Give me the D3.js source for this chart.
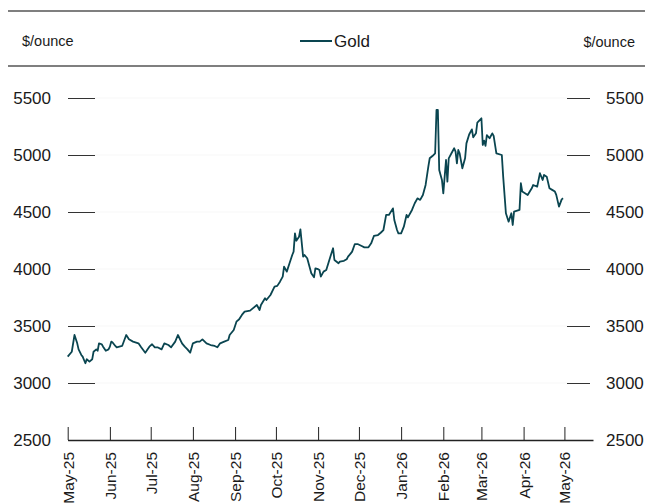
<!DOCTYPE html>
<html>
<head>
<meta charset="utf-8">
<script src="https://cdn.jsdelivr.net/npm/d3@7"></script>
<style>
  body { margin: 0; background: #fff; }
  text { font-family: "Liberation Sans", Arial, sans-serif; fill: #1a1a1a; }
</style>
</head>
<body>
<svg id="chart" width="659" height="503"></svg>
<script>
"use strict";

// gold price, $/ounce
var goldDates = [
  "2025-05-01","2025-05-04","2025-05-06","2025-05-08","2025-05-09","2025-05-11","2025-05-12","2025-05-13","2025-05-14","2025-05-15","2025-05-17","2025-05-19","2025-05-20","2025-05-22","2025-05-23","2025-05-24","2025-05-26","2025-05-27","2025-05-29","2025-05-31",
  "2025-06-01","2025-06-02","2025-06-03","2025-06-05","2025-06-06","2025-06-08","2025-06-10","2025-06-13","2025-06-15","2025-06-18","2025-06-22","2025-06-24","2025-06-27","2025-06-28","2025-06-30",
  "2025-07-02","2025-07-04","2025-07-06","2025-07-09","2025-07-11","2025-07-14","2025-07-16","2025-07-19","2025-07-21","2025-07-24","2025-07-26","2025-07-28","2025-07-30",
  "2025-08-01","2025-08-04","2025-08-06","2025-08-08","2025-08-11","2025-08-14","2025-08-17","2025-08-19","2025-08-21","2025-08-24","2025-08-27","2025-08-28","2025-08-31",
  "2025-09-02","2025-09-04","2025-09-06","2025-09-08","2025-09-12","2025-09-14","2025-09-17","2025-09-19","2025-09-20","2025-09-23","2025-09-24","2025-09-27","2025-09-30",
  "2025-10-02","2025-10-04","2025-10-06","2025-10-07","2025-10-09","2025-10-11","2025-10-13","2025-10-14","2025-10-15","2025-10-16","2025-10-18","2025-10-19","2025-10-21","2025-10-22","2025-10-24","2025-10-26","2025-10-27","2025-10-29","2025-10-30",
  "2025-11-01","2025-11-02","2025-11-03","2025-11-05","2025-11-07","2025-11-10","2025-11-12","2025-11-13","2025-11-16","2025-11-17","2025-11-20","2025-11-22","2025-11-23","2025-11-25","2025-11-26","2025-11-28","2025-11-30",
  "2025-12-03","2025-12-05","2025-12-08","2025-12-10","2025-12-12","2025-12-15","2025-12-17","2025-12-19","2025-12-21","2025-12-23","2025-12-26","2025-12-27","2025-12-29","2025-12-30",
  "2026-01-01","2026-01-03","2026-01-05","2026-01-06","2026-01-09","2026-01-11","2026-01-13","2026-01-15","2026-01-17","2026-01-19","2026-01-21","2026-01-22","2026-01-24","2026-01-26","2026-01-27","2026-01-28","2026-01-29","2026-01-31",
  "2026-02-01","2026-02-03","2026-02-04","2026-02-05","2026-02-07","2026-02-09","2026-02-10","2026-02-11","2026-02-12","2026-02-13","2026-02-15","2026-02-17","2026-02-18","2026-02-20","2026-02-22","2026-02-23","2026-02-25","2026-02-26",
  "2026-03-01","2026-03-02","2026-03-03","2026-03-04","2026-03-05","2026-03-07","2026-03-09","2026-03-10","2026-03-12","2026-03-16","2026-03-17","2026-03-19","2026-03-21","2026-03-23","2026-03-24","2026-03-25","2026-03-29","2026-03-30","2026-03-31",
  "2026-04-04","2026-04-07","2026-04-08","2026-04-11","2026-04-13","2026-04-15","2026-04-16","2026-04-18","2026-04-20","2026-04-22","2026-04-24","2026-04-25","2026-04-27","2026-04-29","2026-04-30"
];
var goldPrices = [
  3231,3274,3421,3348,3295,3246,3231,3202,3173,3208,3188,3208,3274,3295,3283,3348,3340,3319,3283,3295,
  3319,3363,3355,3325,3313,3319,3325,3421,3383,3363,3348,3313,3266,3283,3319,
  3340,3313,3313,3295,3348,3333,3313,3363,3421,3348,3319,3295,3266,
  3348,3363,3363,3383,3348,3333,3325,3313,3348,3363,3377,3421,3465,
  3538,3559,3597,3626,3635,3655,3684,3640,3684,3743,3728,3772,3845,
  3852,3889,3933,4020,3977,4050,4123,4152,4313,4248,4283,4348,4108,4123,4094,4006,3962,3927,4006,
  3998,3991,3933,3977,3991,4108,4182,4079,4050,4065,4072,4086,4108,4137,4152,4219,4219,
  4202,4190,4190,4225,4290,4298,4318,4342,4474,4474,4532,4430,4342,4313,
  4313,4371,4474,4453,4518,4577,4620,4606,4649,4737,4898,4971,4991,5015,5395,5395,4868,4781,
  4664,4956,4766,4971,5015,5059,5030,4927,5044,5015,4883,4971,5102,5180,5225,5155,5190,5285,
  5322,5088,5126,5080,5175,5147,5190,5168,5015,5000,4810,4489,4415,4489,4386,4503,4518,4752,4679,
  4649,4708,4737,4723,4840,4781,4825,4810,4708,4694,4679,4650,4547,4611,4620
];
var yTicks = [2500, 3000, 3500, 4000, 4500, 5000, 5500];
var monthTicks = ["2025-05-01","2025-06-01","2025-07-01","2025-08-01","2025-09-01","2025-10-01","2025-11-01",
                  "2025-12-01","2026-01-01","2026-02-01","2026-03-01","2026-04-01","2026-05-01"];
var axisEnd = "2026-05-22";
var unitLabel = "$/ounce";
var seriesName = "Gold";

var parseDate = d3.timeParse("%Y-%m-%d");
var donnees = goldDates.map(function(d, i) {
    return { date: parseDate(d), prix: goldPrices[i] };
});

var svg = d3.select("#chart");
var lineColor = "#0a4550";

var x = d3.scaleTime()
    .domain([parseDate(monthTicks[0]), parseDate(axisEnd)])
    .range([67.7, 593]);
var y = d3.scaleLinear().domain([2500, 5500]).range([440, 98]);

// header rules
[11, 66].forEach(function(ry) {
    svg.append("line").attr("x1", 8).attr("x2", 645).attr("y1", ry).attr("y2", ry)
        .attr("stroke", "#555").attr("stroke-width", 1.6);
});

// header texts and legend
svg.append("text").attr("x", 22).attr("y", 46).style("font-size", "14.5px").text(unitLabel);
svg.append("text").attr("x", 635).attr("y", 47).attr("text-anchor", "end").style("font-size", "14.5px").text(unitLabel);
svg.append("line").attr("x1", 300).attr("x2", 332).attr("y1", 41).attr("y2", 41)
    .attr("stroke", lineColor).attr("stroke-width", 2);
svg.append("text").attr("x", 334).attr("y", 47).style("font-size", "17px").text(seriesName);

// very faint gridlines
svg.append("g").selectAll("line").data(yTicks.slice(1)).enter().append("line")
    .attr("x1", 95).attr("x2", 567)
    .attr("y1", function(d) { return y(d); }).attr("y2", function(d) { return y(d); })
    .attr("stroke", "#f7f7f7").attr("stroke-width", 1);

var fmt = d3.format("d");

// left axis
var axeGauche = svg.append("g").attr("transform", "translate(95,0)")
    .call(d3.axisLeft(y).tickValues(yTicks).tickFormat(fmt).tickSizeInner(27).tickSizeOuter(0).tickPadding(17));
axeGauche.select(".domain").remove();
axeGauche.selectAll("line").attr("stroke", "#333");
axeGauche.selectAll("text").style("font-size", "17px").style("font-family", "Liberation Sans, Arial, sans-serif").attr("fill", "#1a1a1a");

// right axis
var axeDroit = svg.append("g").attr("transform", "translate(567,0)")
    .call(d3.axisRight(y).tickValues(yTicks).tickFormat(fmt).tickSizeInner(23).tickSizeOuter(0).tickPadding(16));
axeDroit.select(".domain").remove();
axeDroit.selectAll("line").attr("stroke", "#333");
axeDroit.selectAll("text").style("font-size", "17px").style("font-family", "Liberation Sans, Arial, sans-serif").attr("fill", "#1a1a1a");

// bottom axis, ticks pointing up
var axeBas = svg.append("g").attr("transform", "translate(0,440)")
    .call(d3.axisBottom(x).tickValues(monthTicks.map(parseDate)).tickSizeInner(-13).tickSizeOuter(0)
        .tickFormat(d3.timeFormat("%b-%y")));
axeBas.select(".domain").attr("stroke", "#222").attr("stroke-width", 1.4);
axeBas.selectAll("line").attr("stroke", "#222");
axeBas.selectAll("text")
    .attr("transform", "rotate(-90)")
    .attr("text-anchor", "end")
    .attr("x", -12).attr("y", 0).attr("dy", "0.35em")
    .style("font-size", "15.5px").style("font-family", "Liberation Sans, Arial, sans-serif").attr("fill", "#1a1a1a");

// gold line
var ligne = d3.line()
    .x(function(d) { return x(d.date); })
    .y(function(d) { return y(d.prix); });
svg.append("path").datum(donnees)
    .attr("d", ligne)
    .attr("fill", "none")
    .attr("stroke", lineColor)
    .attr("stroke-width", 1.8)
    .attr("stroke-linejoin", "round");
</script>
</body>
</html>
